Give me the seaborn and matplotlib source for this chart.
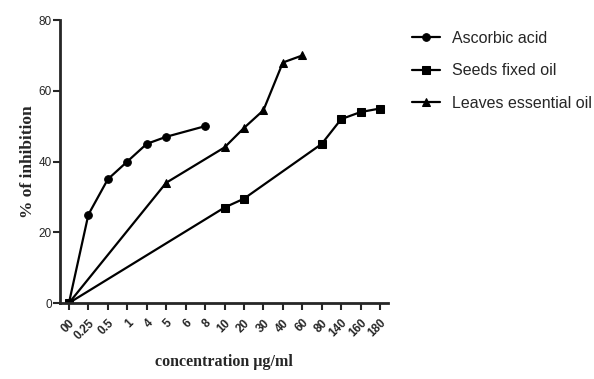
import pandas as pd
import matplotlib
matplotlib.use("Agg")
import matplotlib.pyplot as plt
import seaborn as sns

# concentration categories (equally spaced on the x axis)
concentracoes = ["00", "0.25", "0.5", "1", "4", "5", "6", "8", "10", "20",
                 "30", "40", "60", "80", "140", "160", "180"]

# Ascorbic acid
acido_x = ["00", "0.25", "0.5", "1", "4", "5", "8"]
acido_y = [0, 25, 35, 40, 45, 47, 50]

# Seeds fixed oil
sementes_x = ["00", "10", "20", "80", "140", "160", "180"]
sementes_y = [0, 27, 29.5, 45, 52, 54, 55]

# Leaves essential oil
folhas_x = ["00", "5", "10", "20", "30", "40", "60"]
folhas_y = [0, 34, 44, 49.5, 54.5, 68, 70]

series = [
    ("Ascorbic acid", acido_x, acido_y, "o", 5.5),
    ("Seeds fixed oil", sementes_x, sementes_y, "s", 6),
    ("Leaves essential oil", folhas_x, folhas_y, "^", 6),
]

sns.set_style("ticks")
plt.rcParams['font.family'] = ['Liberation Sans', 'DejaVu Sans']

fig = plt.figure(figsize=(5.94, 3.79), dpi=100)
ax = fig.add_axes([0.101, 0.2005, 0.552, 0.7465])

for nome, xs, ys, marcador, tam in series:
    df = pd.DataFrame({"pos": [concentracoes.index(c) for c in xs], "valor": ys})
    sns.lineplot(data=df, x="pos", y="valor", ax=ax, color="black", lw=1.6,
                 marker=marcador, markersize=tam, markeredgecolor="black",
                 label=nome, legend=False)

ax.set_xlim(-0.46, 16.4)
ax.set_ylim(0, 80)
ax.set_yticks([0, 20, 40, 60, 80])
ax.set_xticks(range(len(concentracoes)))
ax.set_xticklabels(concentracoes, rotation=45, ha="right", rotation_mode="anchor",
                   fontsize=8.5, fontweight="bold")
ax.tick_params(axis="y", labelsize=8.5, width=1.5, length=5, pad=1)
ax.tick_params(axis="x", width=1.5, length=5, pad=5)
for lado in ["left", "bottom"]:
    ax.spines[lado].set_linewidth(2)
sns.despine(ax=ax)

ax.set_xlabel("concentration µg/ml", family=["Liberation Serif"], fontweight="bold",
              fontsize=11.5, labelpad=9)
ax.set_ylabel("% of inhibition", family=["Liberation Serif"], fontweight="bold",
              fontsize=12.5, labelpad=2)

h, l = ax.get_legend_handles_labels()
fig.legend(h, l, loc="upper left", bbox_to_anchor=(0.669, 0.956), frameon=False,
           fontsize=11.5, handlelength=1.75, handletextpad=0.75, labelspacing=1.08)

fig.savefig("out.png", dpi=100)
